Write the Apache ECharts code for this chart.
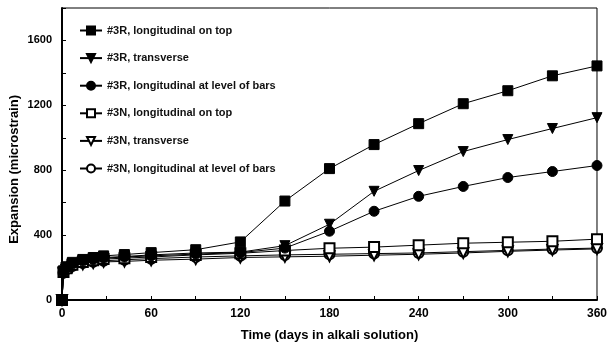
<!DOCTYPE html>
<html><head><meta charset="utf-8">
<script src="https://cdn.jsdelivr.net/npm/echarts@6/dist/echarts.min.js"></script>
<style>html,body{margin:0;padding:0;background:#fff}#c{width:610px;height:347px}</style>
</head><body><div id="c"></div>
<script>
const days = [0,1,3,7,14,21,28,42,60,90,120,150,180,210,240,270,300,330,360];
const r_top   = [0,180,205,232,250,262,272,280,292,310,358,610,810,958,1087,1210,1290,1382,1443];
const r_trans = [0,175,200,225,245,255,262,268,278,290,295,335,467,670,798,915,989,1057,1124];
const r_bars  = [0,178,200,222,240,250,258,265,272,283,292,320,424,547,639,700,755,792,829];
const n_top   = [0,172,195,218,235,245,252,258,265,278,288,305,319,326,338,350,356,362,375];
const n_trans = [0,165,185,205,220,228,235,238,245,252,262,266,270,276,282,290,300,308,315];
const n_bars  = [0,168,190,210,228,236,242,248,255,265,272,278,282,286,290,298,306,314,320];
const names = ['#3R, longitudinal on top','#3R, transverse','#3R, longitudinal at level of bars',
               '#3N, longitudinal on top','#3N, transverse','#3N, longitudinal at level of bars'];
const xLabels = [0,60,120,180,240,300,360];
const yLabels = [0,400,800,1200,1600];
const yTitle = 'Expansion (microstrain)';
const xTitle = 'Time (days in alkali solution)';

const values = [r_top,r_trans,r_bars,n_top,n_trans,n_bars];
const symbols = ['rect','triangle','circle','emptyRect','emptyTriangle','emptyCircle'];
const rotates = [0,180,0,0,180,0];

const chart = echarts.init(document.getElementById('c'), null, {renderer:'canvas'});
const font = 'Liberation Sans, Arial, sans-serif';
chart.setOption({
  animation:false,
  backgroundColor:'#fff',
  grid:{left:62,right:8,top:8,bottom:44,show:true,borderColor:'#000',borderWidth:1},
  legend:{
    orient:'vertical',left:74,top:20,itemWidth:22,itemHeight:10,itemGap:16.6,
    textStyle:{fontFamily:font,fontSize:11,fontWeight:'bold',color:'#111'},
    data:names
  },
  graphic:[{
    type:'text',left:8,top:95,rotation:Math.PI/2,
    style:{text:yTitle,font:'bold 13px '+font,fill:'#000'}
  }],
  xAxis:{
    type:'value',min:0,max:360,interval:30,
    name:xTitle,nameLocation:'middle',nameGap:29,
    nameTextStyle:{fontFamily:font,fontSize:13,fontWeight:'bold',color:'#000'},
    axisLine:{lineStyle:{color:'#000',width:2}},
    axisTick:{inside:true,length:4,lineStyle:{color:'#000'}},
    splitLine:{show:false},
    axisLabel:{margin:8,fontFamily:font,fontSize:12,fontWeight:'bold',color:'#000',
      formatter:v=>xLabels.includes(v)?String(v):''}
  },
  yAxis:{
    type:'value',min:0,max:1800,interval:200,
    axisLine:{show:true,lineStyle:{color:'#000',width:2}},
    axisTick:{show:true,inside:true,length:4,lineStyle:{color:'#000'}},
    splitLine:{show:false},
    axisLabel:{margin:10,fontFamily:font,fontSize:11,fontWeight:'bold',color:'#000',
      formatter:v=>yLabels.includes(v)?String(v):''}
  },
  series:values.map((arr,i)=>({
    name:names[i],type:'line',
    data:days.map((d,j)=>[d,arr[j]]),
    symbol:symbols[i],symbolRotate:rotates[i],symbolSize:10,
    showAllSymbol:true,
    lineStyle:{color:'#000',width:1},
    itemStyle:{color:'#000',borderColor:'#000',borderWidth:1},
    z:10-i
  }))
});
</script></body></html>
